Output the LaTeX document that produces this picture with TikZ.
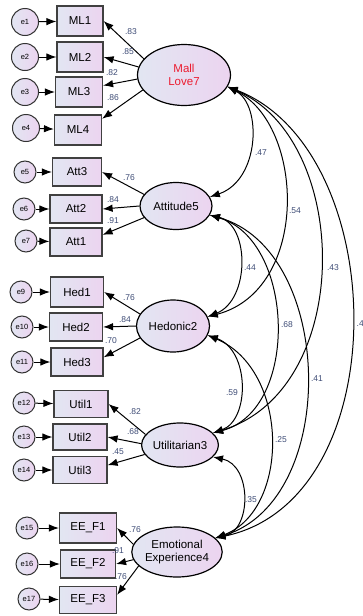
\documentclass[tikz,border=0pt]{standalone}
\usepackage{fontspec}
\setmainfont{Liberation Sans}
\usetikzlibrary{arrows.meta, shapes.geometric}
\definecolor{shadeleft}{RGB}{226,230,242}
\definecolor{shaderight}{RGB}{236,212,240}
\definecolor{coefblue}{RGB}{62,76,118}
\definecolor{lovered}{RGB}{236,28,48}

\begin{document}
\begin{tikzpicture}[x=1pt, y=-1pt,
    latent/.style={ellipse, draw, line width=1.2pt, left color=shadeleft, right color=shaderight,
      inner sep=0pt, align=center, font=\fontsize{11.5}{13}\selectfont},
    item/.style={rectangle, draw=black!75, line width=1.2pt, left color=shadeleft, right color=shaderight,
      minimum height=28pt, inner sep=0pt, font=\fontsize{11.5}{13}\selectfont},
    err/.style={circle, draw=black!80, line width=1pt, left color=shadeleft, right color=shaderight,
      minimum size=22pt, inner sep=0pt, font=\fontsize{7.5}{8}\selectfont},
    load/.style={-{Latex[length=10pt,width=7.5pt]}, line width=1pt},
    cov/.style={{Latex[length=10pt,width=7.5pt]}-{Latex[length=10pt,width=7.5pt]}, line width=1pt},
    coef/.style={font=\fontsize{8.5}{9}\selectfont, text=coefblue, inner sep=0pt}]
  \useasboundingbox (0,0) rectangle (363,616);

  % Латентні змінні
  \node[latent, minimum width=93pt, minimum height=61pt, text=lovered] (ML) at (184,75) {Mall\\Love7};
  \node[latent, minimum width=72pt, minimum height=47pt] (Att) at (176,206) {Attitude5};
  \node[latent, minimum width=73pt, minimum height=52pt] (Hed) at (173,326) {Hedonic2};
  \node[latent, minimum width=71pt, minimum height=44pt] (Util) at (180,445) {Utilitarian3};
  \node[latent, minimum width=76pt, minimum height=50pt] (EE) at (177,552) {Emotional\\Experience4};

  % Індикатори
  \node[item, minimum width=46pt, minimum height=30pt] (ML1) at (80,21) {ML1};
  \node[item, minimum width=46pt, minimum height=30pt] (ML2) at (80,57) {ML2};
  \node[item, minimum width=47pt, minimum height=30pt] (ML3) at (79,92) {ML3};
  \node[item, minimum width=47pt, minimum height=30pt] (ML4) at (78,130) {ML4};
  \node[item, minimum width=49pt] (Att3) at (77,172) {Att3};
  \node[item, minimum width=52pt] (Att2) at (76,209) {Att2};
  \node[item, minimum width=52pt] (Att1) at (76,242) {Att1};
  \node[item, minimum width=53pt, minimum height=30pt] (Hed1) at (77,292) {Hed1};
  \node[item, minimum width=53pt] (Hed2) at (76,327) {Hed2};
  \node[item, minimum width=52pt] (Hed3) at (77,362) {Hed3};
  \node[item, minimum width=54pt, minimum height=27pt] (Util1) at (81,404) {Util1};
  \node[item, minimum width=54pt, minimum height=26pt] (Util2) at (80,437) {Util2};
  \node[item, minimum width=54pt, minimum height=27pt] (Util3) at (80,470) {Util3};
  \node[item, minimum width=57pt, minimum height=30pt] (EEF1) at (88,528) {EE\_F1};
  \node[item, minimum width=55pt] (EEF2) at (88,564) {EE\_F2};
  \node[item, minimum width=57pt, minimum height=27pt] (EEF3) at (88,600) {EE\_F3};

  % Похибки
  \node[err, minimum size=27pt] (e1) at (25,22) {e1};
  \node[err, minimum size=27pt] (e2) at (25,57) {e2};
  \node[err, minimum size=27pt] (e3) at (25,92) {e3};
  \node[err, minimum size=27pt] (e4) at (26,128) {e4};
  \node[err] (e5) at (25,172) {e5};
  \node[err] (e6) at (24,209) {e6};
  \node[err] (e7) at (26,241) {e7};
  \node[err] (e9) at (21,292) {e9};
  \node[err] (e10) at (22,327) {e10};
  \node[err] (e11) at (22,362) {e11};
  \node[err] (e12) at (24,403) {e12};
  \node[err] (e13) at (24,437) {e13};
  \node[err] (e14) at (24,470) {e14};
  \node[err] (e15) at (27,528) {e15};
  \node[err] (e16) at (27,564) {e16};
  \node[err] (e17) at (29,599) {e17};

  \foreach \e/\b in {e1/ML1, e2/ML2, e3/ML3, e4/ML4, e5/Att3, e6/Att2, e7/Att1,
      e9/Hed1, e10/Hed2, e11/Hed3, e12/Util1, e13/Util2, e14/Util3,
      e15/EEF1, e16/EEF2, e17/EEF3}
    \draw[load] (\e) -- (\b);

  % Факторні навантаження
  \draw[load] (ML.158) -- (ML1.east);
  \draw[load] (ML.170) -- (ML2.east);
  \draw[load] (ML.185) -- (ML3.15);
  \draw[load] (ML.200) -- (ML4.25);
  \draw[load] (Att.160) -- (Att3.east);
  \draw[load] (Att.180) -- (Att2.east);
  \draw[load] (Att.200) -- (Att1.15);
  \draw[load] (Hed.160) -- (Hed1.east);
  \draw[load] (Hed.180) -- (Hed2.east);
  \draw[load] (Hed.200) -- (Hed3.10);
  \draw[load] (Util.163) -- (Util1.east);
  \draw[load] (Util.178) -- (Util2.east);
  \draw[load] (Util.195) -- (Util3.10);
  \draw[load] (EE.170) -- (EEF1.east);
  \draw[load] (EE.190) -- (EEF2.east);
  \draw[load] (EE.200) -- (EEF3.10);

  \node[coef] (l1) at (131,32) {.83};
  \node[coef] (l2) at (128,52) {.85};
  \node[coef] (l3) at (112,73) {.82};
  \node[coef] (l4) at (113,98) {.86};
  \node[coef] (l5) at (129,178) {.76};
  \node[coef] (l6) at (113,200) {.84};
  \node[coef] (l7) at (113,221) {.91};
  \node[coef] (l9) at (129,298) {.76};
  \node[coef] (l10) at (125,320) {.84};
  \node[coef] (l11) at (111,341) {.70};
  \node[coef] (l12) at (135,412) {.82};
  \node[coef] (l13) at (133,432) {.68};
  \node[coef] (l14) at (118,452) {.45};
  \node[coef] (l15) at (135,530) {.76};
  \node[coef] (l16) at (118,551) {.91};
  \node[coef] (l17) at (121,577) {.76};

  % Коваріації між факторами
  \draw[cov] (ML.-15) .. controls (262,105) and (260,180) .. (Att.15);
  \draw[cov] (ML.-15) .. controls (305,125) and (310,290) .. (Hed.15);
  \draw[cov] (ML.-15) .. controls (352,140) and (355,390) .. (Util.20);
  \draw[cov] (ML.-15) .. controls (392,150) and (398,500) .. (EE.20);
  \draw[cov] (Att.-15) .. controls (250,225) and (250,300) .. (Hed.15);
  \draw[cov] (Att.-15) .. controls (295,240) and (300,410) .. (Util.20);
  \draw[cov] (Att.-15) .. controls (335,250) and (340,500) .. (EE.20);
  \draw[cov] (Hed.-15) .. controls (250,350) and (250,420) .. (Util.20);
  \draw[cov] (Hed.-15) .. controls (290,370) and (290,510) .. (EE.20);
  \draw[cov] (Util.-20) .. controls (252,465) and (252,530) .. (EE.20);

  \node[coef] (c1) at (261,153) {.47};
  \node[coef] (c2) at (295,211) {.54};
  \node[coef] (c3) at (333,268) {.43};
  \node[coef, anchor=west] (c4) at (356.5,324) {.4};
  \node[coef] (c5) at (250,268) {.44};
  \node[coef] (c6) at (287,325) {.68};
  \node[coef] (c7) at (317,379) {.41};
  \node[coef] (c8) at (232,393) {.59};
  \node[coef] (c9) at (281,440) {.25};
  \node[coef] (c10) at (251,500) {.35};
\end{tikzpicture}
\end{document}
